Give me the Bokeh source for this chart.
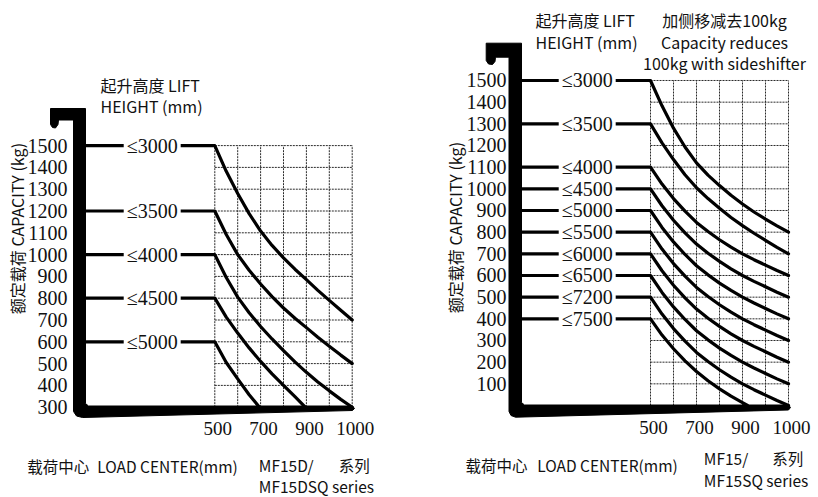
from math import pi
from bokeh.plotting import figure
from bokeh.layouts import row
from bokeh.models import Range1d
from bokeh.core.properties import value
from bokeh.embed import file_html
from bokeh.resources import INLINE

# ---------------- data ----------------
GRID_IDX = [0, 1, 2, 3, 4, 5, 6]            # vertical grid lines (load-center steps)
X_TICK_IDX = [0, 2, 4, 6]
X_TICK_LABELS = ["500", "700", "900", "1000"]

HALF_STEPS = [0, 0.5, 1, 1.5, 2, 2.5, 3, 3.5, 4, 4.5, 5, 5.5, 6]

# left chart: MF15D / MF15DSQ
L_Y_TICKS = [1500, 1400, 1300, 1200, 1100, 1000, 900, 800, 700, 600, 500, 400, 300]
L_HEIGHTS = ["≤3000", "≤3500", "≤4000", "≤4500", "≤5000"]
L_CURVE_X = [
    HALF_STEPS,
    HALF_STEPS,
    HALF_STEPS,
    [0, 0.5, 1, 1.5, 2, 2.5, 3, 3.5, 3.95],
    [0, 0.5, 1, 1.5, 1.95],
]
L_CURVE_Y = [
    [1500, 1382, 1280, 1188, 1108, 1042, 985, 933, 885, 836, 790, 745, 700],
    [1200, 1092, 1000, 928, 865, 807, 755, 708, 665, 621, 580, 539, 500],
    [1000, 895, 805, 733, 670, 613, 560, 508, 460, 416, 375, 336, 300],
    [800, 713, 640, 572, 510, 453, 400, 348, 300],
    [600, 505, 430, 357, 300],
]

# right chart: MF15 / MF15SQ
R_Y_TICKS = [1500, 1400, 1300, 1200, 1100, 1000, 900, 800, 700, 600, 500, 400, 300, 200, 100]
R_HEIGHTS = ["≤3000", "≤3500", "≤4000", "≤4500", "≤5000",
             "≤5500", "≤6000", "≤6500", "≤7200", "≤7500"]
R_CURVE_X = [HALF_STEPS] * 9 + [[0, 0.5, 1, 1.5, 2, 2.5, 3, 3.5, 4, 4.22]]
R_CURVE_Y = [
    [1500, 1383, 1280, 1193, 1120, 1063, 1015, 970, 930, 893, 860, 829, 800],
    [1300, 1212, 1135, 1065, 1005, 955, 910, 868, 830, 795, 762, 730, 700],
    [1100, 1022, 955, 897, 845, 803, 765, 731, 700, 673, 648, 623, 600],
    [1000, 922, 855, 797, 745, 703, 665, 631, 600, 573, 548, 523, 500],
    [900, 822, 755, 697, 645, 603, 565, 531, 500, 473, 448, 423, 400],
    [800, 722, 655, 597, 545, 503, 465, 431, 400, 373, 348, 323, 300],
    [700, 622, 555, 497, 445, 403, 365, 331, 300, 273, 248, 223, 200],
    [600, 522, 455, 397, 345, 303, 265, 231, 200, 173, 148, 123, 100],
    [500, 422, 355, 297, 245, 203, 165, 131, 100, 73, 48, 23, 0],
    [400, 325, 262, 206, 157, 114, 77, 43, 13, 0],
]

Y_TITLE = "额定载荷 CAPACITY (kg)"
LIFT_TITLE = ["起升高度 LIFT", "HEIGHT (mm)"]
NOTE = ["加侧移减去100kg", "Capacity reduces", "100kg with sideshifter"]

W, H = 409, 497
SERIF = "Liberation Serif"
SANS = "Noto Sans CJK SC"
INK = "#111111"


def build(lay, y_ticks, heights, cxs, cys, series_l1, series_l2):
    gx0, gdx, vref, pref, ppk = lay["gx0"], lay["gdx"], lay["vref"], lay["pref"], lay["ppk"]

    def X(px):
        return (px - gx0) / gdx

    def Y(py):
        return vref + (pref - py) / ppk

    p = figure(width=W, height=H, output_backend="svg", toolbar_location=None,
               x_range=Range1d(X(0), X(W)), y_range=Range1d(Y(H), Y(0)),
               min_border=0, background_fill_color="white", border_fill_color="white")
    p.axis.visible = False
    p.grid.visible = False
    p.outline_line_color = None

    ybot = min(y_ticks) if lay["vref"] > 0 else 0
    ytop = max(y_ticks)
    # grid
    for v in y_ticks:
        p.line([GRID_IDX[0], GRID_IDX[-1]], [v, v], line_color="#2a2a2a",
               line_width=1, line_dash="2 1")
    for gi in GRID_IDX:
        p.line([gi, gi], [ybot, ytop], line_color="#2a2a2a", line_width=1, line_dash="2 1")

    # fork / mast silhouette (decoration, in pixels)
    fk = lay["fork"]
    p.patch([X(a) for a, b in fk], [Y(b) for a, b in fk], fill_color="black", line_color="black",
            line_width=1, line_join="round")

    mast_x = X(lay["mast_r"])
    # capacity curves
    for xs, ys in zip(cxs, cys):
        p.line([mast_x] + xs, [ys[0]] + ys, line_color="black", line_width=3.2,
               line_join="round", line_cap="round")

    # lift height labels on the lines
    starts = [ys[0] for ys in cys]
    p.text(x=[X(lay["lab_x"])] * len(heights), y=starts, text=heights,
           text_align="center", text_baseline="middle", text_font=value(SERIF),
           text_font_size="20px", text_color=INK,
           background_fill_color="white", padding=3)

    # y tick labels
    p.text(x=[X(lay["ytick_r"])] * len(y_ticks), y=y_ticks, text=[str(v) for v in y_ticks],
           text_align="right", text_baseline="middle", text_font=value(SERIF),
           text_font_size="20px", text_color=INK)
    # x tick labels
    p.text(x=X_TICK_IDX, y=[Y(lay["xtick_y"])] * len(X_TICK_IDX), text=X_TICK_LABELS,
           x_offset=3, text_align="center", text_baseline="middle", text_font=value(SERIF),
           text_font_size="19px", text_color=INK)
    # rotated y title
    p.text(x=[X(lay["ytitle"][0])], y=[Y(lay["ytitle"][1])], text=[Y_TITLE], angle=pi / 2,
           text_align="center", text_baseline="middle", text_font=value(SANS),
           text_font_size="16px", text_color=INK)
    # lift height title
    lx, ly1, ly2 = lay["lift"]
    p.text(x=[X(lx)] * 2, y=[Y(ly1), Y(ly2)], text=LIFT_TITLE, text_align="left",
           text_baseline="middle", text_font=value(SANS), text_font_size="16px", text_color=INK)
    # bottom texts
    bx1, bx2, by = lay["load"]
    p.text(x=[X(bx1), X(bx2)], y=[Y(by)] * 2, text=["载荷中心", "LOAD CENTER(mm)"],
           text_align="left", text_baseline="middle", text_font=value(SANS),
           text_font_size="15.5px", text_color=INK)
    sx, sx2, sy1, sy2 = lay["series"]
    p.text(x=[X(sx), X(sx2), X(sx)], y=[Y(sy1), Y(sy1), Y(sy2)],
           text=[series_l1, "系列", series_l2], text_align="left", text_baseline="middle",
           text_font=value(SANS), text_font_size="15.5px", text_color=INK)
    if "note" in lay:
        nx, ny = lay["note"]
        p.text(x=[X(nx)] * 3, y=[Y(v) for v in ny], text=NOTE, text_align="center",
               text_baseline="middle", text_font=value(SANS), text_font_size="16px",
               text_color=INK)
    return p


LEFT = dict(
    gx0=214.3, gdx=22.9, vref=300, pref=406.7, ppk=0.218,
    mast_r=85, lab_x=151.7, ytick_r=67, xtick_y=428, ytitle=(16.7, 228),
    lift=(100, 84, 105), load=(26.7, 96.7, 465), series=(258.3, 338.3, 464, 485),
    fork=[(50, 108), (85, 108), (85, 403), (88, 405.5), (352, 405.5), (354, 408), (352, 410),
          (82, 417), (76, 415.5), (73, 411), (73, 119.5), (58, 119.5), (57.5, 124),
          (55, 127.5), (52, 127), (50, 124)],
)
RIGHT = dict(
    gx0=241, gdx=23.0, vref=0, pref=405, ppk=0.21667,
    mast_r=112, lab_x=177.7, ytick_r=97, xtick_y=427, ytitle=(45, 227),
    lift=(126, 19.5, 41), load=(56, 127.7, 464), series=(294.3, 362.7, 457, 479),
    note=(315, [19.5, 41, 62.5]),
    fork=[(76.7, 42.7), (112, 42.7), (112, 402), (115, 404.5), (379, 404.5), (381, 407),
          (379, 409.5), (106, 416.7), (101.5, 415), (99.5, 411), (99.5, 56.7), (86, 56.7),
          (85.5, 61), (83, 64), (79, 63.5), (76.7, 60)],
)

left = build(LEFT, L_Y_TICKS, L_HEIGHTS, L_CURVE_X, L_CURVE_Y, "MF15D/", "MF15DSQ series")
right = build(RIGHT, R_Y_TICKS, R_HEIGHTS, R_CURVE_X, R_CURVE_Y, "MF15/", "MF15SQ series")

layout = row(left, right, spacing=0)
open("out.html", "w").write(file_html(layout, INLINE))
